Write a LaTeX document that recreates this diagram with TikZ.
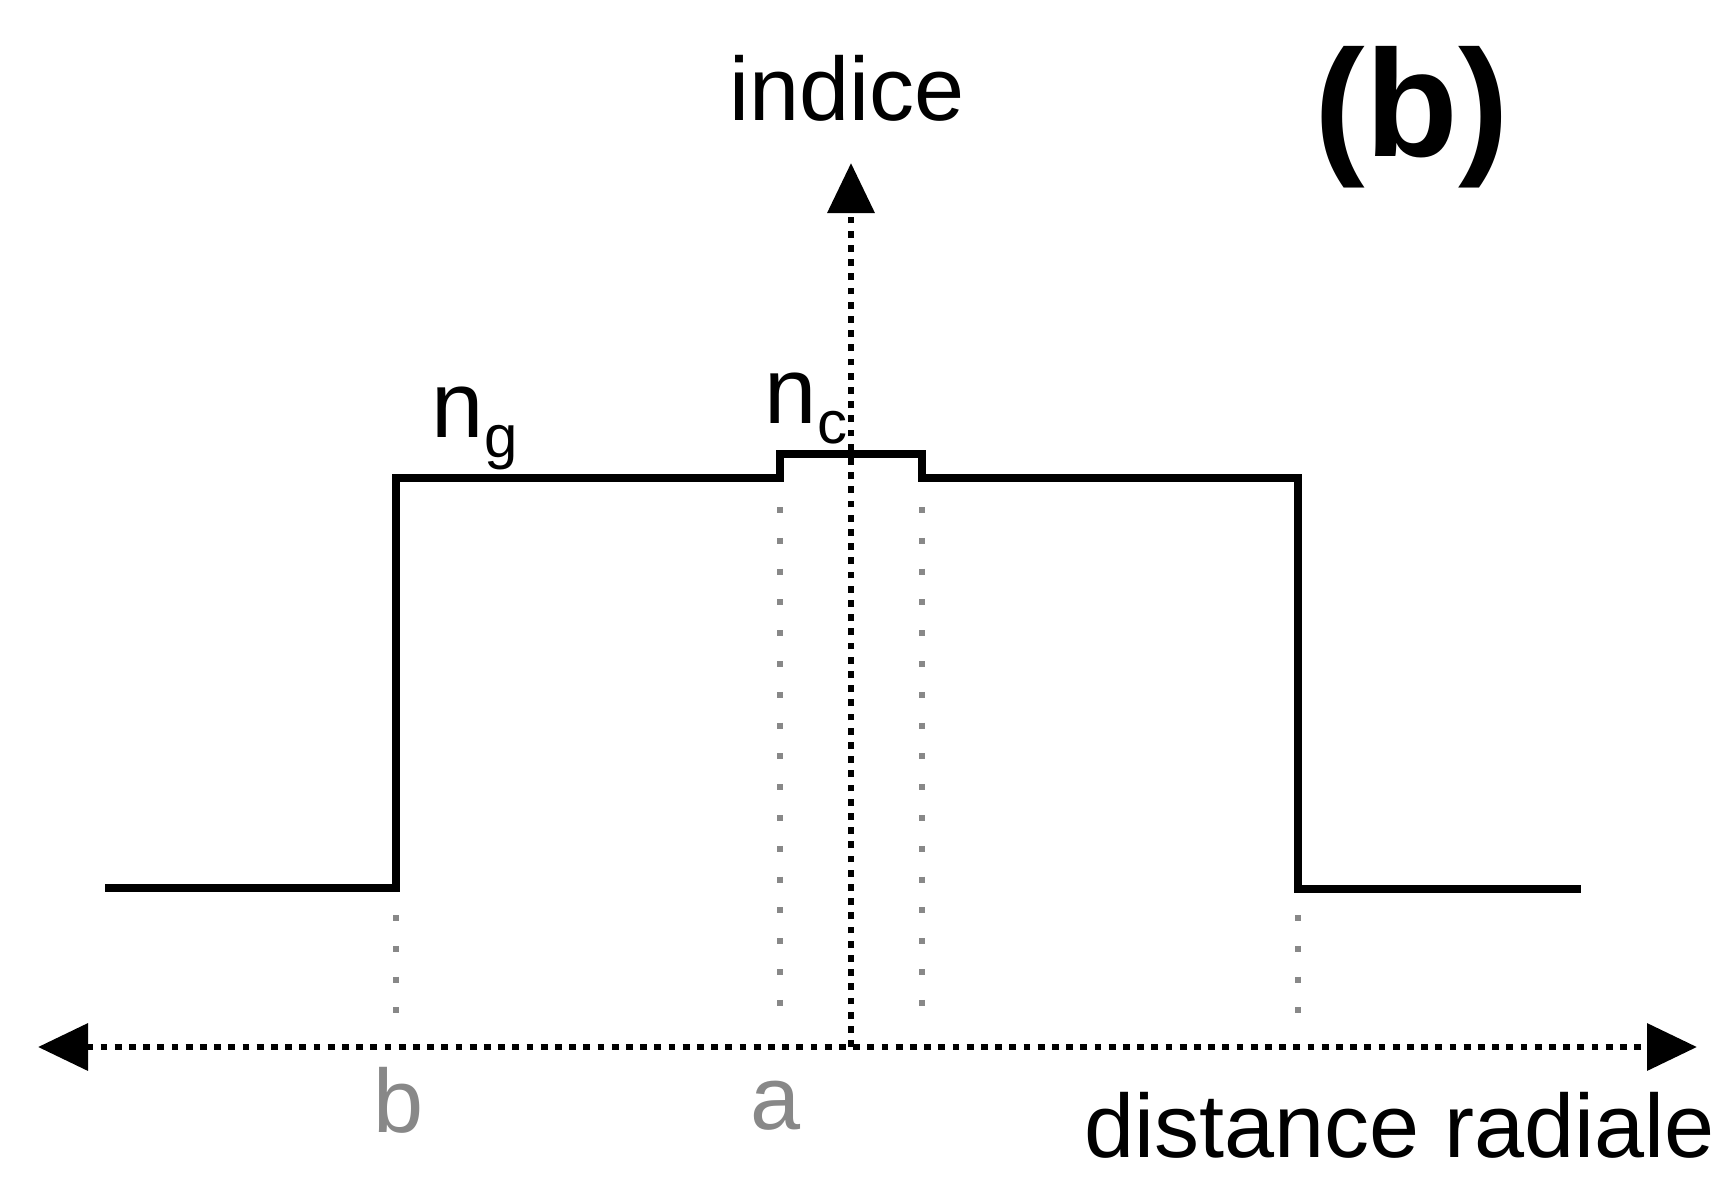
\documentclass[tikz,border=0pt]{standalone}
\usepackage{fontspec}
\setmainfont{Liberation Sans}
\usepackage{xcolor}
\usetikzlibrary{arrows.meta, positioning}
\definecolor{guidegray}{HTML}{888888}

\begin{document}
\begin{tikzpicture}[
  x=0.25pt, y=-0.25pt,
  >={Triangle[length=12.5pt, width=11.5pt]},
  axis/.style={line width=1.7pt, dash pattern=on 1.7pt off 1.85pt},
  guide/.style={line width=1.5pt, dash pattern=on 1.5pt off 6.2pt, guidegray},
  profile/.style={line width=1.9pt},
  lbl/.style={inner sep=0pt, font=\fontsize{22.5}{27}\selectfont},
  nlbl/.style={inner sep=0pt, font=\fontsize{23.5}{28}\selectfont},
  panel/.style={inner sep=0pt, font=\fontsize{38}{44}\selectfont\bfseries}
]
\useasboundingbox (0,0) rectangle (1736,1179);

% axes
\coordinate (xl) at (38,1047);
\coordinate (xr) at (1697,1047);
\coordinate (org) at (851,1047);
\coordinate (ytop) at (851,163);
\draw[axis, <->] (xl) -- (xr);
\draw[axis, ->] (org) -- (ytop);

% index profile
\draw[profile] (105,888) -- (396,888) -- (396,478) -- (780,478) -- (780,454)
  -- (922,454) -- (922,478) -- (1298,478) -- (1298,889) -- (1581,889);

% guides
\draw[guide] (396,915) -- (396,1022);
\draw[guide] (780,507) -- (780,1022);
\draw[guide] (922,507) -- (922,1022);
\draw[guide] (1298,915) -- (1298,1022);

% labels
\node[lbl, anchor=base] (indice) at (847,120) {indice};
\node[panel, anchor=base] (tag) at (1412,156) {(b)};
\node[nlbl, anchor=base west] (ng) at (431,437) {n\raisebox{-5pt}{\fontsize{15}{15}\selectfont g}};
\node[nlbl, anchor=base west] (nc) at (764,423) {n\raisebox{-5pt}{\fontsize{15}{15}\selectfont c}};
\node[lbl, text=guidegray, anchor=base] (blbl) at (399,1132) {b};
\node[lbl, text=guidegray, anchor=base] (albl) at (776,1129) {a};
\node[lbl, anchor=base east] (dist) at (1716,1157) {distance radiale};
\end{tikzpicture}
\end{document}
